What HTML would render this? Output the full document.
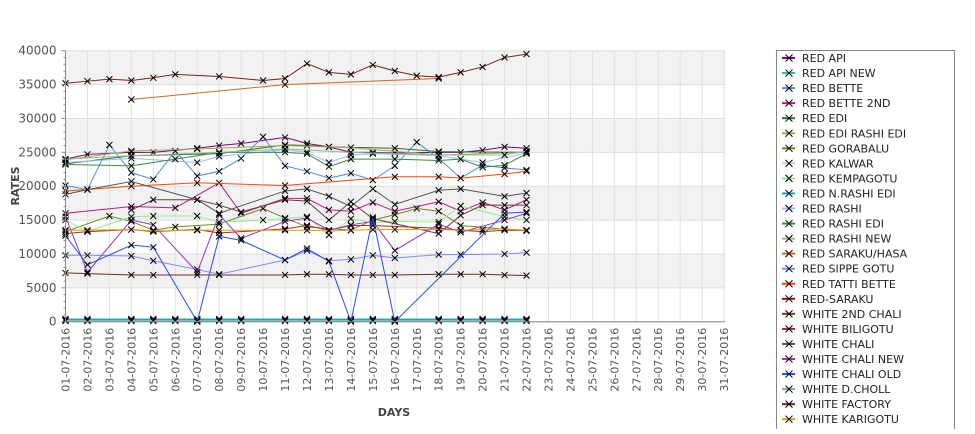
<!DOCTYPE html>
<html><head><meta charset="utf-8"><style>
body{margin:0;background:#fff;font-family:"Liberation Sans","DejaVu Sans",sans-serif}
svg text{font-family:"DejaVu Sans","Liberation Sans",sans-serif}
</style></head><body>
<svg id="chart" width="975" height="429" xmlns="http://www.w3.org/2000/svg"></svg>
<script>
const days=[];for(let i=1;i<=31;i++)days.push((i<10?'0':'')+i+'-07-2016');
const yTicks=[0,5000,10000,15000,20000,25000,30000,35000,40000];
const N=null;
const seriesNames=["RED API","RED API NEW","RED BETTE","RED BETTE 2ND","RED EDI","RED EDI RASHI EDI","RED GORABALU","RED KALWAR","RED KEMPAGOTU","RED N.RASHI EDI","RED RASHI","RED RASHI EDI","RED RASHI NEW","RED SARAKU/HASA","RED SIPPE GOTU","RED TATTI BETTE","RED-SARAKU","WHITE 2ND CHALI","WHITE BILIGOTU","WHITE CHALI","WHITE CHALI NEW","WHITE CHALI OLD","WHITE D.CHOLL","WHITE FACTORY","WHITE KARIGOTU"];
const seriesColors=["#800080","#20c0a0","#4a90d9","#c71585","#2e6e2e","#a0a850","#6b8e23","#b0e0c0","#90ee90","#20a0c0","#99bbff","#3c8c3c","#8fbc8f","#d2691e","#8888ff","#ff4500","#7b2020","#6b3a3a","#a52a2a","#4a5a50","#9932cc","#1f4fff","#80b0a0","#6b2a2a","#e0a000"];
// values per day 01..22
const sRedApi=[24000,24700,N,25000,25000,N,25600,26000,26300,N,27200,26300,25800,25000,25000,24900,N,25000,25000,25300,25800,25600];
const sRedApiNew=[400,400,N,400,400,400,400,400,400,N,400,400,400,400,400,400,N,400,400,400,400,400];
const sRedBette=[20100,19500,26100,22000,21000,25200,21500,22200,24100,27300,23000,22200,21200,21900,20900,23000,26500,24100,21200,23100,22700,22400];
const sRedBette2=[16000,N,N,17000,N,16800,N,20500,16000,N,18200,18200,16500,16300,17600,16300,N,17700,16300,17600,16500,18000];
const sRedEdi=[23300,N,N,24500,N,N,N,24800,N,N,26100,26000,25800,N,N,25600,N,25100,N,N,N,25000];
const sRedEdiRashi=[23900,N,N,25200,N,N,25500,N,N,N,26000,N,N,25700,N,N,N,24600,N,N,N,25000];
const sGorabalu=[13300,N,15600,14800,13500,14000,N,14400,N,16700,15300,14000,N,13500,15000,15800,16700,16300,14200,N,N,13400];
const sKalwar=[200,200,N,200,200,200,200,200,200,N,200,200,200,200,200,200,N,200,200,200,200,200];
const sKempa=[15000,13300,N,15500,15600,N,15600,14700,N,15000,15200,15500,12800,15200,14600,14800,N,14700,17100,N,15500,15000];
const sNRashi=[300,300,N,300,300,300,300,300,300,N,300,300,300,300,300,300,N,300,300,300,300,300];
const sRedRashi=[23500,N,N,24100,N,N,23500,24400,N,N,25400,25000,23500,24600,24800,N,N,24500,N,23500,N,24900];
const sRedRashiEdi=[23200,N,N,23000,N,24000,N,25000,N,N,25000,24800,22900,24000,N,24000,N,23800,24000,22800,23100,24800];
const sRedRashiNew=[24000,N,N,24500,N,N,N,25000,N,N,25500,N,N,25000,N,N,N,24600,N,N,24600,25200];
const sHasa=[N,N,N,32800,N,N,N,N,N,N,35000,N,N,N,N,N,N,35900,N,N,N,N];
const sSippe=[9800,9800,N,9700,9000,N,7700,7000,N,N,9100,10500,9000,9200,9800,9400,N,9900,9900,N,10000,10200];
const sTatti=[19300,N,N,20000,N,N,20500,N,N,N,20100,N,N,N,N,21400,N,21400,21200,N,21800,22200];
const sRedSaraku=[35200,35500,35800,35600,36000,36500,N,36200,N,35600,35900,38100,36800,36500,37900,37000,36300,36100,36800,37600,39000,39500];
const sWhite2nd=[N,N,N,16500,18000,N,18000,17200,16200,N,18000,17800,15000,17700,15200,N,N,13000,15700,17200,17200,17200];
const sBiligotu=[13000,13300,N,13600,13300,N,13600,13100,N,N,13700,14200,13500,14200,14200,N,N,13800,13500,13300,13500,13500];
const sWhiteChali=[18800,19500,N,20700,N,N,18000,16000,N,N,19300,19600,18500,17000,19600,17300,N,19400,19600,N,18500,19000];
const sChaliNew=[15500,7300,N,15000,14300,N,7300,15800,12300,N,14800,15300,13500,14300,14800,10500,N,14400,13200,N,15000,16000];
const sChaliOld=[12700,8400,N,11300,11000,N,0,12600,12000,N,9100,10800,8900,0,15400,0,N,N,N,N,16000,16200];
const sDcholl=[100,100,N,100,100,100,100,100,100,N,100,100,100,100,100,100,N,100,100,100,100,100];
const sFactory=[7200,7100,N,6900,6900,N,6900,6900,N,N,6900,7000,7000,6900,6900,6900,N,7000,7000,7000,6900,6800];
const sKarigotu=[13500,13500,N,13600,13400,N,13500,13500,N,N,13500,13500,13400,13500,13600,13600,N,13600,13500,13600,13700,13500];
const seriesData=[sRedApi,sRedApiNew,sRedBette,sRedBette2,sRedEdi,sRedEdiRashi,sGorabalu,sKalwar,sKempa,sNRashi,sRedRashi,sRedRashiEdi,sRedRashiNew,sHasa,sSippe,sTatti,sRedSaraku,sWhite2nd,sBiligotu,sWhiteChali,sChaliNew,sChaliOld,sDcholl,sFactory,sKarigotu];

const NS="http://www.w3.org/2000/svg";
const svg=document.getElementById('chart');
const L=65.5,R=725,T=50.7,B=321.7,YMAX=40000;
function xs(i){return L+i*(R-0.9-L)/30;}
function ys(v){return B-(v/YMAX)*(B-T);}
function mk(tag,attrs,parent){const e=document.createElementNS(NS,tag);for(const k in attrs)e.setAttribute(k,attrs[k]);(parent||svg).appendChild(e);return e;}
const plot=mk('g',{});


// bands
for(let b=5000;b<YMAX;b+=10000){const r=mk('rect',{x:L,y:ys(b+5000),width:R-L,height:ys(b)-ys(b+5000),fill:'#f2f2f2'},plot);

}
// gridlines
yTicks.forEach(v=>{const l=mk('line',{x1:L,x2:R,y1:ys(v),y2:ys(v),stroke:'#dedede','stroke-width':1},plot);

});
days.forEach((d,i)=>{const l=mk('line',{x1:xs(i),x2:xs(i),y1:T,y2:B,stroke:'#e0e0e0','stroke-width':1},plot);

});
// axes
const ya=mk('line',{x1:L,x2:L,y1:T,y2:B,stroke:'#888'});


const xa=mk('line',{x1:L,x2:R,y1:B,y2:B,stroke:'#888'});


for(let v=0;v<=YMAX;v+=1000){const t=mk('line',{x1:v%5000?L-2:L-4,x2:L,y1:ys(v),y2:ys(v),stroke:'#888'});

}
yTicks.forEach(v=>{const t=mk('text',{x:L-9,y:ys(v)+4,'text-anchor':'end','font-size':12,fill:'#555'});t.textContent=v;

});
days.forEach((d,i)=>{const t=mk('text',{transform:`translate(${xs(i)+4},${B+6}) rotate(-90)`,'text-anchor':'end','font-size':11,fill:'#555'});t.textContent=d;

});
const yt=mk('text',{transform:'translate(19,186) rotate(-90)','text-anchor':'middle','font-size':11,'font-weight':'bold',fill:'#444'});yt.textContent='RATES';


const xt=mk('text',{x:394,y:416,'text-anchor':'middle','font-size':11,'font-weight':'bold',fill:'#444'});xt.textContent='DAYS';


// series
seriesData.forEach((arr,si)=>{
 const g=mk('g',{},plot);
 
 
 let pts=[];arr.forEach((v,i)=>{if(v!==null)pts.push([xs(i),ys(v)]);});
 const p=mk('polyline',{points:pts.map(q=>q.join(',')).join(' '),fill:'none',stroke:seriesColors[si],'stroke-width':1},g);
 
 
 pts.forEach(q=>{const m=mk('path',{d:`M${q[0]-3},${q[1]-3}L${q[0]+3},${q[1]+3}M${q[0]-3},${q[1]+3}L${q[0]+3},${q[1]-3}`,stroke:'#000','stroke-width':1},g);
 
 });
});
// legend
const lg=mk('g',{});


mk('rect',{x:776.5,y:50.5,width:178,height:390,fill:'#fff',stroke:'#888'},lg);
seriesNames.forEach((n,i)=>{
 const y=58+i*15.05;
 const e=mk('g',{},lg);
 
 
 mk('line',{x1:782,x2:795,y1:y,y2:y,stroke:seriesColors[i],'stroke-width':2},e);
 mk('path',{d:`M${785.5},${y-3.5}L${792.5},${y+3.5}M${785.5},${y+3.5}L${792.5},${y-3.5}`,stroke:'#000','stroke-width':1},e);
 const t=mk('text',{x:802,y:y+4,'font-size':11,fill:'#222'},e);t.textContent=n;
});
</script>
</body></html>
